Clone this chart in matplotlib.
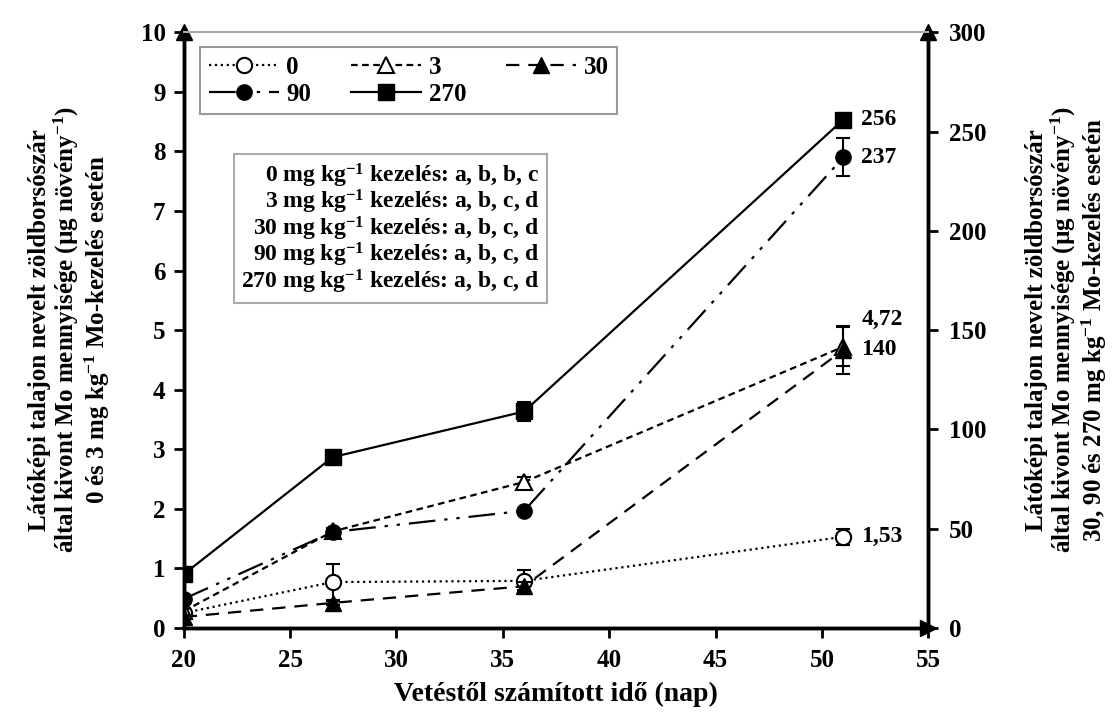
import matplotlib
matplotlib.use("Agg")
import matplotlib.pyplot as plt
from matplotlib.lines import Line2D

plt.rcParams["font.family"] = ["Liberation Serif", "DejaVu Serif"]
plt.rcParams["font.weight"] = "bold"
plt.rcParams["mathtext.fontset"] = "custom"
plt.rcParams["mathtext.rm"] = "Liberation Serif:bold"
plt.rcParams["mathtext.bf"] = "Liberation Serif:bold"
plt.rcParams["mathtext.it"] = "Liberation Serif:bold"
plt.rcParams["mathtext.default"] = "rm"

# ======= Data =======
days = [20, 27, 36, 51]

# left axis (0 and 3 mg/kg)
mo_0 = [0.25, 0.77, 0.79, 1.53]
err_0 = [0.05, 0.30, 0.18, 0.13]
mo_3 = [0.28, 1.62, 2.45, 4.72]
err_3 = [0.05, 0.05, 0.08, 0.33]

# right axis (30, 90, 270 mg/kg)
mo_30 = [5.5, 12.6, 21, 140]
err_30 = [1.0, 1.0, 2.0, 12.0]
mo_90 = [14.6, 48.3, 59, 237]
err_90 = [0.8, 1.0, 1.0, 9.5]
mo_270 = [27, 86, 109, 256]
err_270 = [1.0, 2.0, 5.0, 2.0]

end_labels = ["1,53", "4,72", "140", "237", "256"]
box_lines = [
    "0 mg kg$^{-1}$ kezelés: a, b, b, c",
    "3 mg kg$^{-1}$ kezelés: a, b, c, d",
    "30 mg kg$^{-1}$ kezelés: a, b, c, d",
    "90 mg kg$^{-1}$ kezelés: a, b, c, d",
    "270 mg kg$^{-1}$ kezelés: a, b, c, d",
]
# ====================

fig = plt.figure(figsize=(11.2, 7.16), dpi=100)
ax = fig.add_axes([0.164, 0.123, 0.665, 0.832])
ax2 = ax.twinx()

lw = 1.6
ms = 11
common = dict(color="black", lw=lw, ms=ms, capsize=5, elinewidth=1.5, capthick=1.5)

styles = {
    "0": dict(ls=":", marker="o", mfc="white", mec="black", mew=1.5),
    "3": dict(ls=(0, (3, 2)), marker="^", mfc="white", mec="black", mew=1.5),
    "30": dict(ls=(0, (6, 4)), marker="^", mfc="black", mec="black"),
    "90": dict(ls=(0, (12, 4, 1.5, 4, 1.5, 4)), marker="o", mfc="black", mec="black"),
    "270": dict(ls="-", marker="s", mfc="black", mec="black"),
}

ax.errorbar(days, mo_0, yerr=err_0, **styles["0"], **common)
ax.errorbar(days, mo_3, yerr=err_3, **styles["3"], **common)
ax2.errorbar(days, mo_30, yerr=err_30, **styles["30"], **common)
ax2.errorbar(days, mo_90, yerr=err_90, **styles["90"], **common)
ax2.errorbar(days, mo_270, yerr=err_270, **styles["270"], **common)

ax.set_xlim(20, 55)
ax.set_ylim(0, 10)
ax2.set_ylim(0, 300)
ax.set_xticks(range(20, 56, 5))
ax.set_yticks(range(0, 11))
ax2.set_yticks(range(0, 301, 50))

for a in (ax, ax2):
    a.tick_params(labelsize=18, width=2, length=7)
    for lab in a.get_xticklabels() + a.get_yticklabels():
        lab.set_fontweight("bold")
ax.tick_params(axis="x", pad=8)
ax.tick_params(axis="y", pad=6)
ax2.tick_params(axis="y", pad=8)

for a in (ax, ax2):
    a.spines["left"].set_linewidth(2.5)
    a.spines["right"].set_linewidth(2.5)
    a.spines["bottom"].set_linewidth(2.5)
    a.spines["top"].set_color("#aaaaaa")
    a.spines["top"].set_linewidth(1.5)

# axis arrows
ax2.plot([0], [1], marker="^", color="black", ms=12, transform=ax2.transAxes, clip_on=False)
ax2.plot([1], [1], marker="^", color="black", ms=12, transform=ax2.transAxes, clip_on=False)
ax2.plot([1], [0], marker=">", color="black", ms=12, transform=ax2.transAxes, clip_on=False)

ax.set_xlabel("Vetéstől számított idő (nap)", fontsize=20, fontweight="bold", labelpad=7)
ax.set_ylabel("Látóképi talajon nevelt zöldborsószár\náltal kivont Mo mennyisége (µg növény$^{-1}$)\n"
              "0 és 3 mg kg$^{-1}$ Mo-kezelés esetén",
              fontsize=18, fontweight="bold", linespacing=1.05, va="center")
ax.yaxis.set_label_coords(-0.153, 0.5)
ax2.set_ylabel("Látóképi talajon nevelt zöldborsószár\náltal kivont Mo mennyisége (µg növény$^{-1}$)\n"
               "30, 90 és 270 mg kg$^{-1}$ Mo-kezelés esetén",
               fontsize=18, fontweight="bold", linespacing=1.05,
               rotation=90, va="center")
ax2.yaxis.set_label_coords(1.186, 0.5)

# end labels
off = dict(textcoords="offset points", ha="left", va="center", fontsize=17, fontweight="bold")
ax.annotate(end_labels[0], (days[-1], mo_0[-1]), xytext=(13, 0), **off)
ax.annotate(end_labels[1], (days[-1], mo_3[-1]), xytext=(13, 20), **off)
ax2.annotate(end_labels[2], (days[-1], mo_30[-1]), xytext=(13, 0), **off)
ax2.annotate(end_labels[3], (days[-1], mo_90[-1]), xytext=(13, 0), **off)
ax2.annotate(end_labels[4], (days[-1], mo_270[-1]), xytext=(13, 0), **off)

# legend (column-major order gives rows: 0 3 30 / 90 270)
order = ["0", "90", "3", "270", "30"]
handles = [Line2D([], [], color="black", lw=lw, ms=ms, **styles[k]) for k in order]
leg = ax2.legend(handles=handles, labels=order, loc="upper left",
                 bbox_to_anchor=(0.022, 0.975), borderaxespad=0, ncol=3, fontsize=18,
                 frameon=True, fancybox=False, edgecolor="#999999", framealpha=1,
                 handlelength=2.8, columnspacing=1.6, borderpad=0.35, labelspacing=0.15,
                 handletextpad=0.3)
leg.get_frame().set_linewidth(1.5)
for t in leg.get_texts():
    t.set_fontweight("bold")

ax2.text(0.478, 0.783, "\n".join(box_lines), transform=ax2.transAxes, ha="right", va="top",
         multialignment="right", fontsize=17, fontweight="bold", linespacing=0.92,
         bbox=dict(boxstyle="square,pad=0.3", fc="white", ec="#aaaaaa", lw=1.5))

fig.savefig("out.png", dpi=100)
